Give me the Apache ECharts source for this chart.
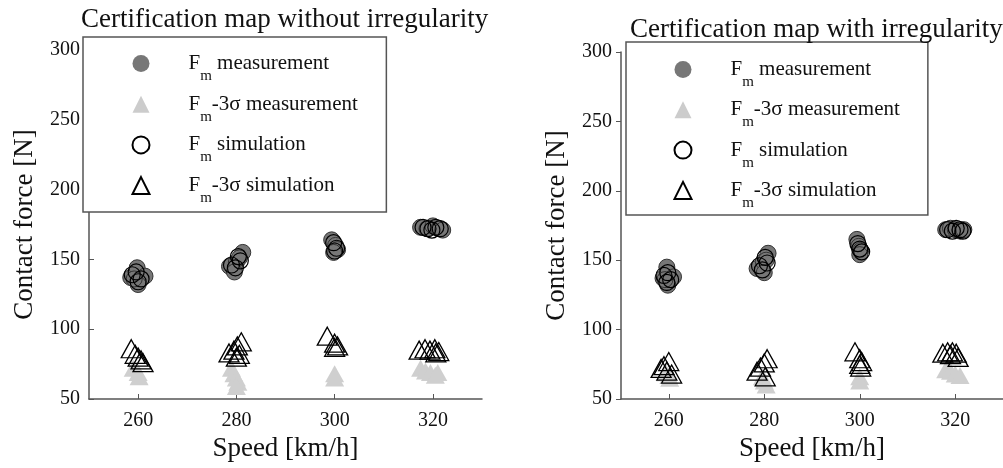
<!DOCTYPE html>
<html>
<head>
<meta charset="utf-8">
<script src="https://cdn.jsdelivr.net/npm/echarts@6/dist/echarts.min.js"></script>
<style>
  html, body { margin: 0; padding: 0; background: #fff; }
  #chart { width: 1003px; height: 468px; }
</style>
</head>
<body>
<div id="chart"></div>
<script>
// speed ticks on the x axis
var speedTicks = [260, 280, 300, 320];

// left panel: without irregularity
var leftFmMeas = [
  [258.5, 137], [259.8, 144], [261.4, 138], [260, 132], [259.2, 136],
  [278.6, 145], [280, 148], [281.3, 155], [280.6, 151], [279.6, 141],
  [299.4, 164], [300.2, 160], [300.6, 157], [299.8, 155],
  [317.5, 173], [318.8, 172], [320, 174], [321.2, 172], [322, 171]
];
var leftFmSim = [
  [258.8, 139], [259.6, 141], [260.6, 136], [260, 134],
  [279, 146], [280.4, 152], [280.8, 149], [279.8, 144],
  [299.8, 162], [300.4, 158], [300, 156],
  [318, 173], [319, 172], [319.8, 171], [320.6, 173], [321.5, 172]
];
var leftSigmaMeas = [
  [259, 72], [260, 69], [260.2, 66],
  [279, 72], [279.5, 68], [280, 65], [280.3, 62], [280, 59],
  [300, 68], [300, 65],
  [317.5, 72], [318.5, 70], [319.5, 69], [320.5, 67], [321, 69]
];
var leftSigmaSim = [
  [258.6, 86], [259.4, 82], [260, 80], [260.6, 78], [261, 76],
  [278.5, 83], [279.5, 85], [280.2, 88], [281, 91], [280.6, 82], [280, 80],
  [298.5, 95], [300, 90], [300.6, 88], [300, 87],
  [317.2, 85], [318.4, 86], [319.4, 85], [320.4, 86], [321.2, 84], [320.6, 83]
];

// right panel: with irregularity
var rightFmMeas = [
  [258.8, 137], [259.6, 145], [261, 138], [259.8, 132], [259.2, 136],
  [278.5, 144], [279.8, 149], [280.8, 155], [280.4, 150], [280, 141],
  [299.4, 165], [299.8, 160], [300.2, 157], [300, 154],
  [318, 172], [319, 173], [320, 172], [321, 171], [321.8, 172]
];
var rightFmSim = [
  [259, 139], [259.8, 141], [260.4, 136], [259.6, 134],
  [279, 146], [280.2, 152], [280.6, 148], [279.6, 143],
  [299.6, 162], [300, 158], [300.4, 156],
  [318.4, 172], [319.4, 171], [320.2, 173], [321, 172], [321.6, 171]
];
var rightSigmaMeas = [
  [259.4, 69], [260, 67], [260.2, 65],
  [279.6, 66], [280, 63], [280.4, 60],
  [300, 66], [300, 63],
  [318, 71], [319, 70], [320, 68], [321, 67]
];
var rightSigmaSim = [
  [258.4, 72], [259, 74], [259.6, 70], [260, 77], [260.6, 68],
  [278.5, 70], [279.2, 73], [280, 76], [280.6, 79], [280.2, 66],
  [299, 84], [300, 79], [300.4, 77], [300, 75], [300.2, 73],
  [317.4, 83], [318.4, 84], [319.4, 84], [320.2, 83], [320.6, 80], [319, 82]
];

var FONT = "Liberation Serif";
var names = ["Fm measurement", "Fm-3σ measurement", "Fm simulation", "Fm-3σ simulation"];

function xAxisOpt(gridIndex) {
  return {
    type: "value",
    gridIndex: gridIndex,
    min: 250,
    max: 330,
    name: "Speed [km/h]",
    nameLocation: "middle",
    nameGap: 35,
    nameTextStyle: { fontFamily: FONT, fontSize: 27, color: "#111" },
    axisLine: { show: true, onZero: false, lineStyle: { color: "#555", width: 1.5 } },
    axisTick: { show: true, inside: true, length: 5, customValues: speedTicks, lineStyle: { color: "#555" } },
    axisLabel: { customValues: speedTicks, margin: 12, fontFamily: FONT, fontSize: 20, color: "#111" },
    splitLine: { show: false }
  };
}

function yAxisOpt(gridIndex, tickInside) {
  return {
    type: "value",
    gridIndex: gridIndex,
    min: 50,
    max: 300,
    interval: 50,
    name: "Contact force [N]",
    nameLocation: "middle",
    nameGap: 51,
    nameTextStyle: { fontFamily: FONT, fontSize: 27, color: "#111" },
    axisLine: { show: true, onZero: false, lineStyle: { color: "#555", width: 1.5 } },
    axisTick: { show: true, inside: tickInside, length: 5, lineStyle: { color: "#555" } },
    axisLabel: { margin: 9, fontFamily: FONT, fontSize: 20, color: "#111" },
    splitLine: { show: false }
  };
}

function legendOpt(left, top, padding, gap) {
  return {
    orient: "vertical",
    left: left,
    top: top,
    padding: padding,
    itemGap: gap,
    itemWidth: 17,
    itemHeight: 17,
    backgroundColor: "#fff",
    borderColor: "#555",
    borderWidth: 1.5,
    borderRadius: 0,
    selectedMode: false,
    data: [
      { name: names[0], icon: "circle", itemStyle: { color: "#777", borderWidth: 0 } },
      { name: names[1], icon: "triangle", itemStyle: { color: "#ccc", borderWidth: 0 } },
      { name: names[2], icon: "circle" },
      { name: names[3], icon: "triangle" }
    ],
    formatter: function (name) {
      return "{f|F}{s|m}{a|" + name.slice(2) + "}";
    },
    textStyle: {
      fontFamily: FONT,
      fontSize: 21,
      color: "#111",
      rich: {
        f: { fontFamily: FONT, fontSize: 21, lineHeight: 40, color: "#111", padding: [0, 0, 0, 34] },
        a: { fontFamily: FONT, fontSize: 21, lineHeight: 40, color: "#111" },
        s: { fontFamily: FONT, fontSize: 15, lineHeight: 18, verticalAlign: "bottom", color: "#111" }
      }
    }
  };
}

function seriesFor(idx, fmMeas, sigmaMeas, fmSim, sigmaSim) {
  return [
    {
      name: names[1], type: "scatter", xAxisIndex: idx, yAxisIndex: idx,
      symbol: "triangle", symbolSize: [19, 17],
      itemStyle: { color: "#cfcfcf", borderWidth: 0, opacity: 1 },
      data: sigmaMeas
    },
    {
      name: names[0], type: "scatter", xAxisIndex: idx, yAxisIndex: idx,
      symbol: "circle", symbolSize: 16,
      itemStyle: { color: "#777", borderColor: "#333", borderWidth: 1, opacity: 1 },
      data: fmMeas
    },
    {
      name: names[3], type: "scatter", xAxisIndex: idx, yAxisIndex: idx,
      symbol: "triangle", symbolSize: [20, 18],
      itemStyle: { color: "rgba(0,0,0,0)", borderColor: "#000", borderWidth: 1.3, opacity: 1 },
      data: sigmaSim
    },
    {
      name: names[2], type: "scatter", xAxisIndex: idx, yAxisIndex: idx,
      symbol: "circle", symbolSize: 16,
      itemStyle: { color: "rgba(0,0,0,0)", borderColor: "#000", borderWidth: 1.2, opacity: 1 },
      data: fmSim
    }
  ];
}

var myChart = echarts.init(document.getElementById("chart"), null, { renderer: "canvas" });
myChart.setOption({
  backgroundColor: "#fff",
  animation: false,
  textStyle: { fontFamily: FONT },
  title: [
    {
      text: "Certification map without irregularity",
      left: 81, top: 6, padding: 0,
      textStyle: { fontFamily: FONT, fontSize: 27, fontWeight: "normal", color: "#111" }
    },
    {
      text: "Certification map with irregularity",
      left: 630, top: 16, padding: 0,
      textStyle: { fontFamily: FONT, fontSize: 27, fontWeight: "normal", color: "#111" }
    }
  ],
  grid: [
    { left: 89, top: 50, width: 393, height: 349 },
    { left: 621, top: 52, width: 392.5, height: 347 }
  ],
  xAxis: [xAxisOpt(0), xAxisOpt(1)],
  yAxis: [yAxisOpt(0, true), yAxisOpt(1, false)],
  legend: [
    legendOpt(83, 37, [16, 28.5, 6.5, 48.5], 10.2),
    legendOpt(626, 42, [17, 28, 4.5, 47.5], 9.8)
  ],
  series: seriesFor(0, leftFmMeas, leftSigmaMeas, leftFmSim, leftSigmaSim)
    .concat(seriesFor(1, rightFmMeas, rightSigmaMeas, rightFmSim, rightSigmaSim))
});
</script>
</body>
</html>
